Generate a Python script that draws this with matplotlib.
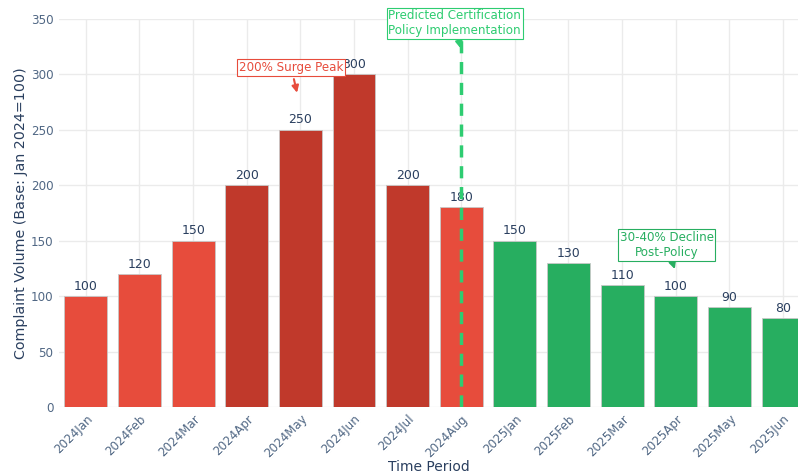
import numpy as np
import matplotlib.pyplot as plt

periods = ["2024Jan", "2024Feb", "2024Mar", "2024Apr", "2024May", "2024Jun", "2024Jul",
           "2024Aug", "2025Jan", "2025Feb", "2025Mar", "2025Apr", "2025May", "2025Jun"]
volume = [100, 120, 150, 200, 250, 300, 200, 180, 150, 130, 110, 100, 90, 80]
phase = ["pre", "pre", "pre", "surge", "surge", "surge", "surge",
         "pre", "post", "post", "post", "post", "post", "post"]

phase_colors = {"pre": "#E74C3C", "surge": "#C0392B", "post": "#27AE60"}
text_col = "#2a3f5f"
tick_col = "#506784"

fig = plt.figure(figsize=(7.98, 4.74), dpi=100)
ax = fig.add_axes([0.074, 0.1414, 0.926, 0.8186])

x = np.arange(len(periods))
bars = ax.bar(x, volume, width=0.8, color=[phase_colors[p] for p in phase],
              edgecolor="#c8c8c8", linewidth=0.6, zorder=2)
for xi, v in zip(x, volume):
    ax.text(xi, v + 3, str(v), ha="center", va="bottom", fontsize=9, color=text_col, zorder=3)

ax.set_xlim(-0.5, 13.28)
ax.set_ylim(0, 350)
ax.set_yticks(range(0, 351, 50))
ax.set_xticks(x)
ax.set_xticklabels(periods, rotation=45, ha="right", rotation_mode="anchor")
ax.tick_params(axis="x", length=0, labelsize=8.6, colors=tick_col, pad=4)
ax.tick_params(axis="y", length=0, labelsize=8.6, colors=tick_col, pad=4)
ax.grid(True, color="#ebebeb", linewidth=1, zorder=0)
ax.set_axisbelow(True)
for s in ax.spines.values():
    s.set_visible(False)
ax.set_xlabel("Time Period", fontsize=10, color=text_col, labelpad=0)
ax.set_ylabel("Complaint Volume (Base: Jan 2024=100)", fontsize=10.3, color=text_col, labelpad=2)

# policy line
ax.plot([7, 7], [0, 350], color="#2ECC71", linestyle=(0, (3.5, 2.5)), linewidth=2.5, zorder=4)

ax.annotate("Predicted Certification\nPolicy Implementation", xy=(7, 321), xytext=(6.88, 346),
            ha="center", va="center", fontsize=8.6, color="#2ECC71", linespacing=1.2,
            bbox=dict(boxstyle="square,pad=0.15", fc="white", ec="#2ECC71", lw=0.8),
            arrowprops=dict(arrowstyle="-|>", color="#2ECC71", lw=1.5, mutation_scale=10),
            annotation_clip=False, zorder=5)

ax.annotate("200% Surge Peak", xy=(3.95, 281), xytext=(3.83, 306),
            ha="center", va="center", fontsize=8.6, color="#E74C3C",
            bbox=dict(boxstyle="square,pad=0.15", fc="white", ec="#E74C3C", lw=0.8),
            arrowprops=dict(arrowstyle="-|>", color="#E74C3C", lw=1.5, mutation_scale=10),
            zorder=5)

ax.annotate("30-40% Decline\nPost-Policy", xy=(11.0, 122), xytext=(10.83, 146),
            ha="center", va="center", fontsize=8.6, color="#27AE60", linespacing=1.2,
            bbox=dict(boxstyle="square,pad=0.15", fc="white", ec="#27AE60", lw=0.8),
            arrowprops=dict(arrowstyle="-|>", color="#27AE60", lw=1.5, mutation_scale=10),
            zorder=5)

fig.savefig("out.png", dpi=100)
